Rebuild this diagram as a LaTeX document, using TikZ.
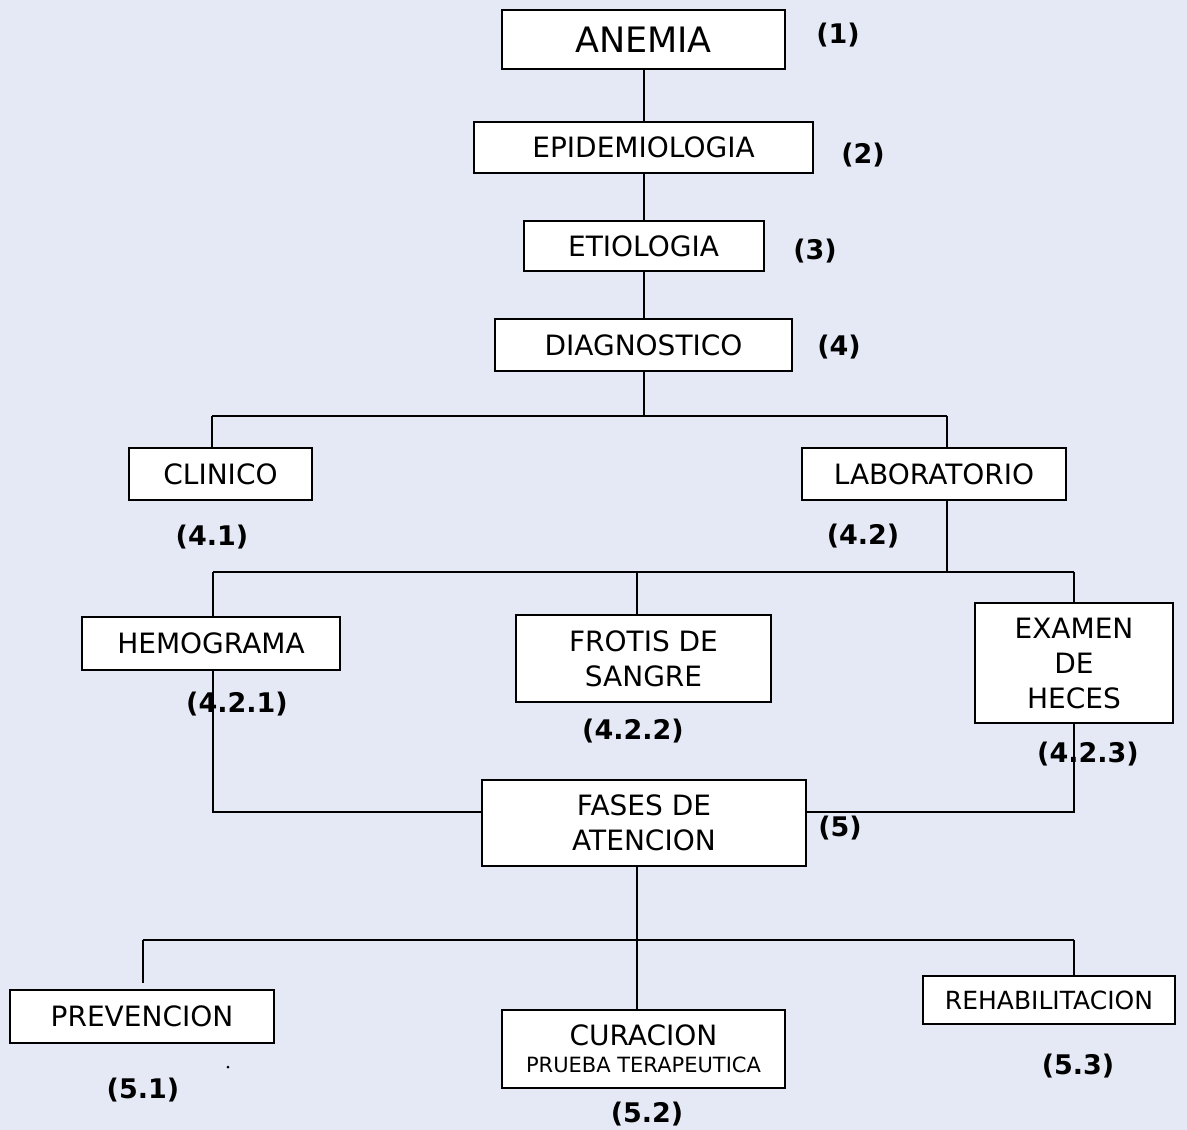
\documentclass[tikz,border=0pt]{standalone}
\usepackage{fontspec}
\setmainfont{DejaVu Sans}
\definecolor{bg}{RGB}{228,233,245}
\begin{document}
\begin{tikzpicture}[x=1pt,y=-1pt,
  box/.style={draw=black, fill=white, line width=2pt, inner sep=0pt, align=center,
              font=\fontsize{28}{35}\selectfont},
  tag/.style={font=\fontsize{27}{30}\selectfont\bfseries, inner sep=0pt},
  link/.style={draw=black, line width=2pt}]
\fill[bg] (0,0) rectangle (1187,1130);
\useasboundingbox (0,0) rectangle (1187,1130);

% boxes
\node[box, minimum width=283pt, minimum height=59pt, font=\fontsize{35}{40}\selectfont] (anemia) at (643.5,39.5) {ANEMIA};
\node[box, minimum width=339pt, minimum height=51pt] (epi) at (643.5,147.5) {EPIDEMIOLOGIA};
\node[box, minimum width=240pt, minimum height=50pt] (etio) at (643.5,246) {ETIOLOGIA};
\node[box, minimum width=297pt, minimum height=52pt] (diag) at (643.5,345) {DIAGNOSTICO};
\node[box, minimum width=183pt, minimum height=52pt] (clin) at (220.5,474) {CLINICO};
\node[box, minimum width=264pt, minimum height=52pt] (lab) at (934,474) {LABORATORIO};
\node[box, minimum width=258pt, minimum height=53pt] (hemo) at (211,643.5) {HEMOGRAMA};
\node[box, minimum width=255pt, minimum height=87pt] (frotis) at (643.5,658.5) {FROTIS DE\\SANGRE};
\node[box, minimum width=198pt, minimum height=120pt] (examen) at (1074,663) {EXAMEN\\DE\\HECES};
\node[box, minimum width=324pt, minimum height=86pt] (fases) at (644,823) {FASES DE\\ATENCION};
\node[box, minimum width=264pt, minimum height=53pt] (prev) at (142,1016.5) {PREVENCION};
\node[box, minimum width=283pt, minimum height=78pt] (cur) at (643.5,1049)
  {CURACION\\[-8pt]{\fontsize{21}{27}\selectfont PRUEBA TERAPEUTICA}};
\node[box, minimum width=252pt, minimum height=48pt, font=\fontsize{25}{30}\selectfont] (rehab) at (1049,1000) {REHABILITACION};

% junction points of the connector buses
\coordinate (b1L) at (212,416);
\coordinate (b1R) at (947,416);
\coordinate (b2L) at (213,572);
\coordinate (b2M) at (637,572);
\coordinate (b2R) at (1074,572);
\coordinate (j5) at (637,812);
\coordinate (b3L) at (143,940);
\coordinate (b3M) at (637,940);
\coordinate (b3R) at (1074,940);
\coordinate (prevTop) at (143,983);

% connectors
\draw[link] (anemia) -- (epi);
\draw[link] (epi) -- (etio);
\draw[link] (etio) -- (diag);
\draw[link] (diag.south) -- (diag.south |- b1L);
\draw[link] (b1L) -- (b1R);
\draw[link] (b1L) -- (b1L |- clin.north);
\draw[link] (b1R) -- (b1R |- lab.north);
\draw[link] (b1R |- lab.south) -- (b1R |- b2L);
\draw[link] (b2L) -- (b2R);
\draw[link] (b2L) -- (b2L |- hemo.north);
\draw[link] (b2M) -- (b2M |- frotis.north);
\draw[link] (b2R) -- (examen.north);
\draw[link] (b2L |- hemo.south) |- (fases.west |- j5);
\draw[link] (examen.south) |- (fases.east |- j5);
\draw[link] (b3M |- fases.south) -- (b3M |- cur.north);
\draw[link] (b3L) -- (b3R);
\draw[link] (b3L) -- (prevTop);
\draw[link] (b3R) -- (b3R |- rehab.north);

% section numbers
\node[tag] (t1) at (838,35) {(1)};
\node[tag] (t2) at (863,155) {(2)};
\node[tag] (t3) at (815,251) {(3)};
\node[tag] (t4) at (839,347) {(4)};
\node[tag] (t41) at (212,537) {(4.1)};
\node[tag] (t42) at (863,536) {(4.2)};
\node[tag] (t421) at (237,704) {(4.2.1)};
\node[tag] (t422) at (633,731) {(4.2.2)};
\node[tag] (t423) at (1088,754) {(4.2.3)};
\node[tag] (t5) at (840,828) {(5)};
\node[tag] (t51) at (143,1090) {(5.1)};
\node[tag] (t52) at (647,1114) {(5.2)};
\node[tag] (t53) at (1078,1066) {(5.3)};

% stray dot
\fill (228,1067) circle (1.5pt);
\end{tikzpicture}
\end{document}
